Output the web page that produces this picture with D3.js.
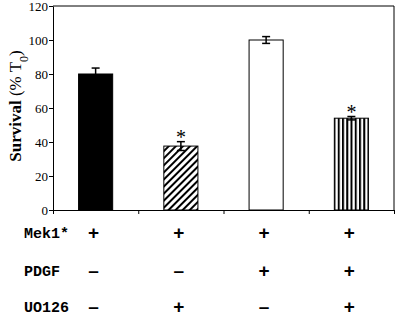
<!DOCTYPE html>
<html>
<head>
<meta charset="utf-8">
<script src="https://cdn.jsdelivr.net/npm/d3@7"></script>
<style>
  body { margin: 0; background: #fff; }
  #chart { width: 400px; height: 320px; }
  .axis text { font-family: "Liberation Serif", "Times New Roman", serif; font-size: 13px; fill: #000; }
  .axis path, .axis line { stroke: #000; }
  .row-label { font-family: "Liberation Mono", "Courier New", monospace; font-weight: bold; font-size: 15px; }
  .sign { font-family: "Liberation Sans", Arial, sans-serif; font-weight: bold; font-size: 19px; }
</style>
</head>
<body>
<div id="chart"></div>
<script>
const conditions = ["c1", "c2", "c3", "c4"];
const survival = [80, 37.6, 100, 54];
const errors = [3.5, 2.6, 2, 1];
const starred = [false, true, false, true];
const yTicks = [0, 20, 40, 60, 80, 100, 120];
const rowLabels = ["Mek1*", "PDGF", "UO126"];
const rowSigns = [
    ["+", "+", "+", "+"],
    ["-", "-", "+", "+"],
    ["-", "+", "-", "+"]
];

function renderSurvival(selector) {
    d3.select(selector).html("");

    const margin = {top: 6, right: 6, bottom: 110, left: 53};
    const fullW = 400, fullH = 320;
    const width = fullW - margin.left - margin.right;
    const height = fullH - margin.top - margin.bottom;

    const root = d3.select(selector).append("svg")
        .attr("width", fullW)
        .attr("height", fullH);

    const defs = root.append("defs");
    const diag = defs.append("pattern")
        .attr("id", "diag")
        .attr("patternUnits", "userSpaceOnUse")
        .attr("width", 5)
        .attr("height", 5)
        .attr("patternTransform", "rotate(45)");
    diag.append("rect").attr("width", 5).attr("height", 5).attr("fill", "#fff");
    diag.append("rect").attr("x", 0).attr("width", 2).attr("height", 5).attr("fill", "#000");

    const vert = defs.append("pattern")
        .attr("id", "vert")
        .attr("patternUnits", "userSpaceOnUse")
        .attr("width", 4.25)
        .attr("height", 10);
    vert.append("rect").attr("width", 4.25).attr("height", 10).attr("fill", "#fff");
    vert.append("rect").attr("width", 2).attr("height", 10).attr("fill", "#000");

    const fills = ["#000", "url(#diag)", "#fff", "url(#vert)"];

    const svg = root.append("g")
        .attr("transform", `translate(${margin.left}, ${margin.top})`);

    const x = d3.scaleBand()
        .domain(conditions)
        .range([0, width])
        .paddingInner(0.6)
        .paddingOuter(0.3);

    const y = d3.scaleLinear()
        .domain([0, 120])
        .range([height, 0]);

    // plot frame (top and right)
    svg.append("path")
        .attr("d", `M0,0H${width}V${height}`)
        .attr("fill", "none")
        .attr("stroke", "#000")
        .attr("stroke-width", 1);

    svg.append("g")
        .attr("class", "axis axis-y")
        .call(d3.axisLeft(y).tickValues(yTicks).tickSize(4).tickPadding(1).tickSizeOuter(0));

    // category boundary ticks on the x axis
    const bounds = d3.range(conditions.length + 1).map(i => i * width / conditions.length);
    const xb = d3.scaleLinear().domain([0, width]).range([0, width]);
    svg.append("g")
        .attr("class", "axis axis-x")
        .attr("transform", `translate(0, ${height})`)
        .call(d3.axisBottom(xb).tickValues(bounds).tickSize(4).tickSizeOuter(0).tickFormat(""));

    svg.selectAll(".bar")
        .data(conditions)
        .enter()
        .append("rect")
        .attr("class", "bar")
        .attr("x", d => x(d))
        .attr("y", (d, i) => y(survival[i]))
        .attr("width", x.bandwidth())
        .attr("height", (d, i) => height - y(survival[i]))
        .attr("fill", (d, i) => fills[i])
        .attr("stroke", "#000")
        .attr("stroke-width", 1);

    const err = svg.selectAll(".err")
        .data(conditions)
        .enter()
        .append("g")
        .attr("class", "err")
        .attr("transform", d => `translate(${x(d) + x.bandwidth() / 2}, 0)`);
    err.append("line")
        .attr("y1", (d, i) => y(survival[i] + errors[i]))
        .attr("y2", (d, i) => y(survival[i] - errors[i]))
        .attr("stroke", "#000").attr("stroke-width", 1.5);
    err.append("line")
        .attr("x1", -4).attr("x2", 4)
        .attr("y1", (d, i) => y(survival[i] + errors[i]))
        .attr("y2", (d, i) => y(survival[i] + errors[i]))
        .attr("stroke", "#000").attr("stroke-width", 1.5);
    err.append("line")
        .attr("x1", -4).attr("x2", 4)
        .attr("y1", (d, i) => y(survival[i] - errors[i]))
        .attr("y2", (d, i) => y(survival[i] - errors[i]))
        .attr("stroke", "#000").attr("stroke-width", 1.5);

    svg.selectAll(".star")
        .data(conditions.filter((d, i) => starred[i]))
        .enter()
        .append("text")
        .attr("class", "star")
        .attr("x", d => x(d) + x.bandwidth() / 2)
        .attr("y", d => y(survival[conditions.indexOf(d)] + errors[conditions.indexOf(d)]) + 2)
        .attr("text-anchor", "middle")
        .attr("font-family", "Liberation Serif, serif")
        .attr("font-size", 20)
        .text("*");

    // y axis title
    const title = root.append("text")
        .attr("transform", "translate(21, 106) rotate(-90)")
        .attr("text-anchor", "middle")
        .attr("font-family", "Liberation Serif, 'Times New Roman', serif")
        .attr("font-size", 17);
    title.append("tspan").attr("font-weight", "bold").text("Survival ");
    title.append("tspan").text("(% T");
    title.append("tspan").attr("baseline-shift", "sub").attr("font-size", 12).text("0");
    title.append("tspan").text(")");

    // treatment table
    const rowY = [233, 271, 307];
    rowLabels.forEach((lab, r) => {
        root.append("text")
            .attr("class", "row-label")
            .attr("x", 24)
            .attr("y", rowY[r] + 5)
            .text(lab);
        root.selectAll(null)
            .data(rowSigns[r])
            .enter()
            .append("text")
            .attr("class", "sign")
            .attr("x", (d, i) => margin.left + x(conditions[i]) + x.bandwidth() / 2 - 2)
            .attr("y", rowY[r] + 6)
            .attr("text-anchor", "middle")
            .text(d => d === "+" ? "+" : "\u2013");
    });
}

renderSurvival("#chart");
</script>
</body>
</html>
